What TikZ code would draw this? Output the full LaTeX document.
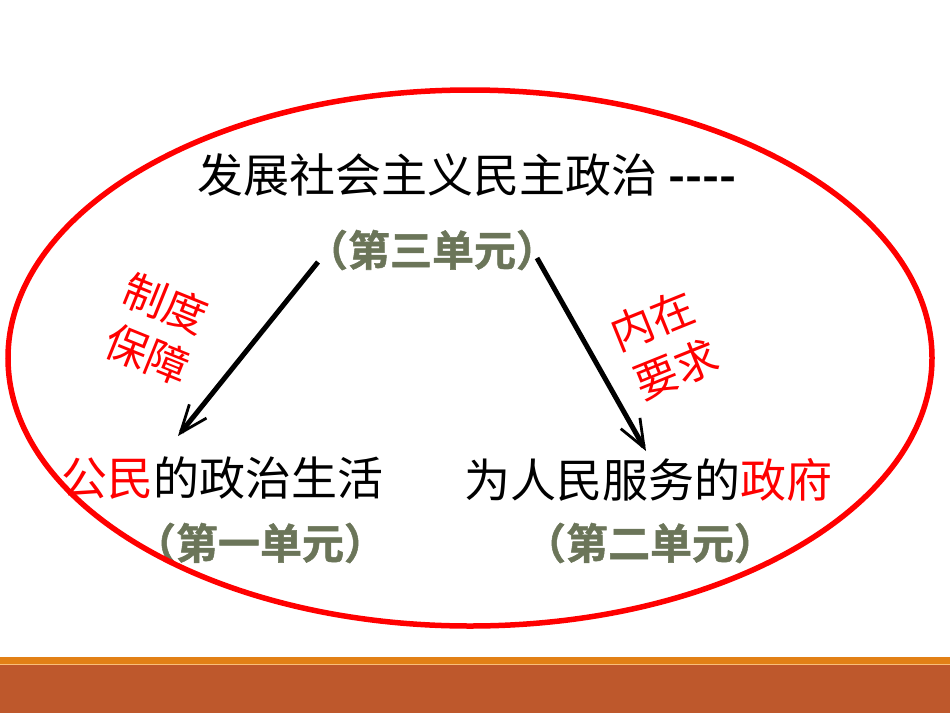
\documentclass[tikz,border=0pt]{standalone}
\usepackage{fontspec}
\setmainfont{Liberation Sans}
\newfontfamily\cjk{Noto Sans CJK SC}[BoldFont={Noto Sans CJK SC Bold}]
\newfontfamily\cjkheavy{Noto Sans CJK SC Bold}[FakeBold=1.2]
\usetikzlibrary{arrows.meta}
\definecolor{unitgray}{RGB}{107,117,89}
\definecolor{ringred}{RGB}{255,0,0}
\definecolor{barorange}{RGB}{226,128,22}
\definecolor{barbrown}{RGB}{190,88,44}
\definecolor{barline}{RGB}{250,190,120}
\tikzset{
  maintext/.style={font=\cjk\fontsize{46}{50}\selectfont, inner sep=0pt},
  unitlbl/.style={font=\cjkheavy\fontsize{42}{44}\selectfont, text=unitgray, inner sep=0pt},
  redlbl/.style={font=\cjk\fontsize{43}{54}\selectfont, text=ringred, inner sep=0pt},
  arr/.style={line width=5pt, -{Straight Barb[length=28pt,width=22pt,line width=2.8pt]}},
}
\begin{document}
\begin{tikzpicture}[x=1pt,y=-1pt]
\useasboundingbox (0,0) rectangle (950,713);
\fill[white] (0,0) rectangle (950,713);
% bottom bars
\fill[barorange] (0,657) rectangle (950,664);
\fill[barbrown] (0,665) rectangle (950,713);
\draw[barline, line width=0.8pt] (0,664.5) -- (950,664.5);
% texts
\node[maintext] (title) at (467,175) {发展社会主义民主政治 \textbf{----}};
\node[unitlbl] (u3) at (432,250) {（第三单元）};
\node[redlbl, rotate=-22] (zd1) at (166,303) {制度};
\node[redlbl, rotate=-22] (zd2) at (148,354) {保障};
\node[redlbl, rotate=22] (nz1) at (652,320) {内在};
\node[redlbl, rotate=22] (nz2) at (676,369) {要求};
\node[maintext] (civ) at (222,478) {\textcolor{ringred}{公民}的政治生活};
\node[maintext] (gov) at (648,480) {为人民服务的\textcolor{ringred}{政府}};
\node[unitlbl] (u1) at (260,543) {（第一单元）};
\node[unitlbl] (u2) at (650,543) {（第二单元）};
% arrows
\coordinate (ls) at (318,262);
\coordinate (le) at (178,436);
\coordinate (rs) at (537,258);
\coordinate (re) at (646,451);
\draw[arr] (ls) -- (le);
\draw[arr] (rs) -- (re);
% ring
\draw[ringred, line width=5.5pt] (470,358) ellipse [x radius=462, y radius=268];
\end{tikzpicture}
\end{document}
